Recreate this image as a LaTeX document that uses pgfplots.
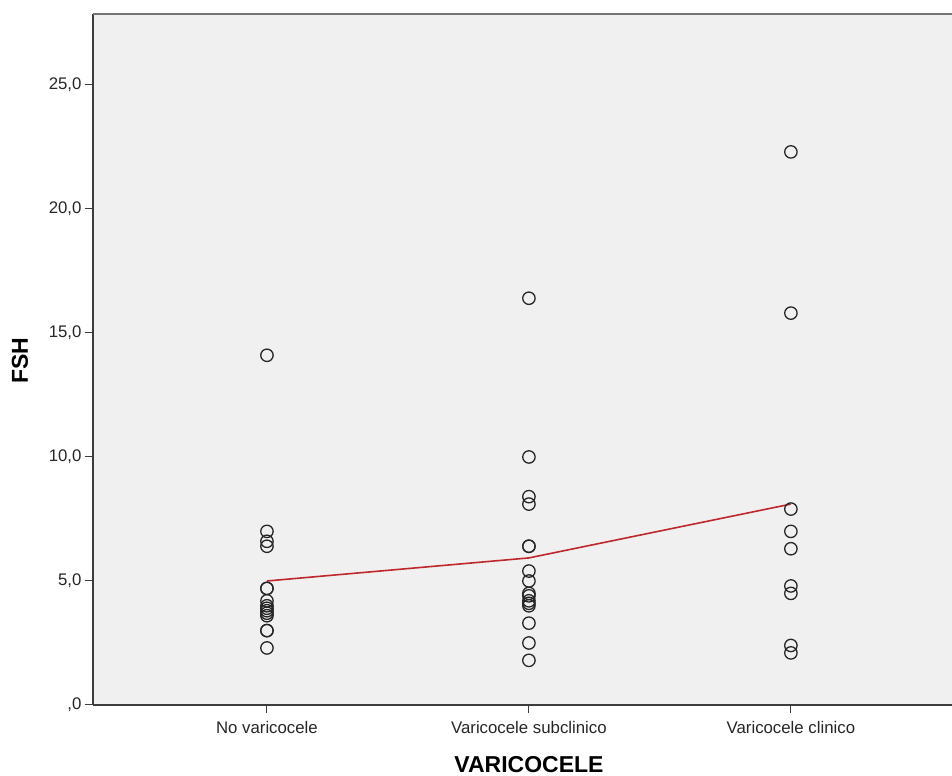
\documentclass[border=0pt]{standalone}
\usepackage{pgfplots}
\pgfplotsset{compat=1.18}
\usepackage{fontspec}
\setmainfont{Liberation Sans}
\definecolor{bgc}{RGB}{240,240,240}
\definecolor{axc}{RGB}{60,60,60}
\definecolor{meanc}{RGB}{190,40,45}
\begin{document}
\begin{tikzpicture}
\begin{axis}[
 scale only axis, width=859pt, height=691pt,
 xmin=-0.664, xmax=2.615, ymin=0, ymax=27.86,
 axis x line*=bottom, axis y line*=left,
 axis line style={axc, line width=1.2pt},
 axis background/.style={fill=bgc},
 xtick={0,1,2}, xticklabels={No varicocele, Varicocele subclinico, Varicocele clinico},
 ytick={0,5,10,15,20,25}, yticklabels={{,0},{5,0},{10,0},{15,0},{20,0},{25,0}},
 tick align=outside, major tick length=8pt, tick style={axc, line width=1pt},
 ticklabel style={font=\fontsize{16.8}{18}\selectfont, text=black!85},
 xticklabel style={yshift=-5pt},
 xlabel={VARICOCELE}, ylabel={FSH},
 label style={font=\fontsize{23}{26}\selectfont\bfseries},
 xlabel style={at={(axis description cs:0.5076,-0.0868)}, anchor=center},
 ylabel style={at={(axis description cs:-0.0850,0.498)}, anchor=center},
]
\addplot[meanc, line width=1.6pt] coordinates {(0,5.0) (1,5.93) (2,8.1)};
\addplot[only marks, mark=o, mark size=6.2pt, mark options={black!85, line width=1.3pt}] coordinates {
(0,14.1) (0,7.0) (0,6.6) (0,6.4) (0,4.7) (0,4.7) (0,4.2) (0,4.0) (0,3.9) (0,3.8) (0,3.7) (0,3.6) (0,3.0) (0,3.0) (0,2.3)
(1,16.4) (1,10.0) (1,8.4) (1,8.1) (1,6.4) (1,6.4) (1,5.4) (1,5.0) (1,4.5) (1,4.4) (1,4.2) (1,4.1) (1,4.0) (1,3.3) (1,2.5) (1,1.8)
(2,22.3) (2,15.8) (2,7.9) (2,7.0) (2,6.3) (2,4.8) (2,4.5) (2,2.4) (2,2.1)
};
\end{axis}
\draw[black!55, line width=1.6pt] (current axis.north west) -- (current axis.north east);
\pgfresetboundingbox
\path ([xshift=-93pt,yshift=-71pt]current axis.south west) rectangle ([yshift=14pt]current axis.north east);
\end{tikzpicture}
\end{document}
